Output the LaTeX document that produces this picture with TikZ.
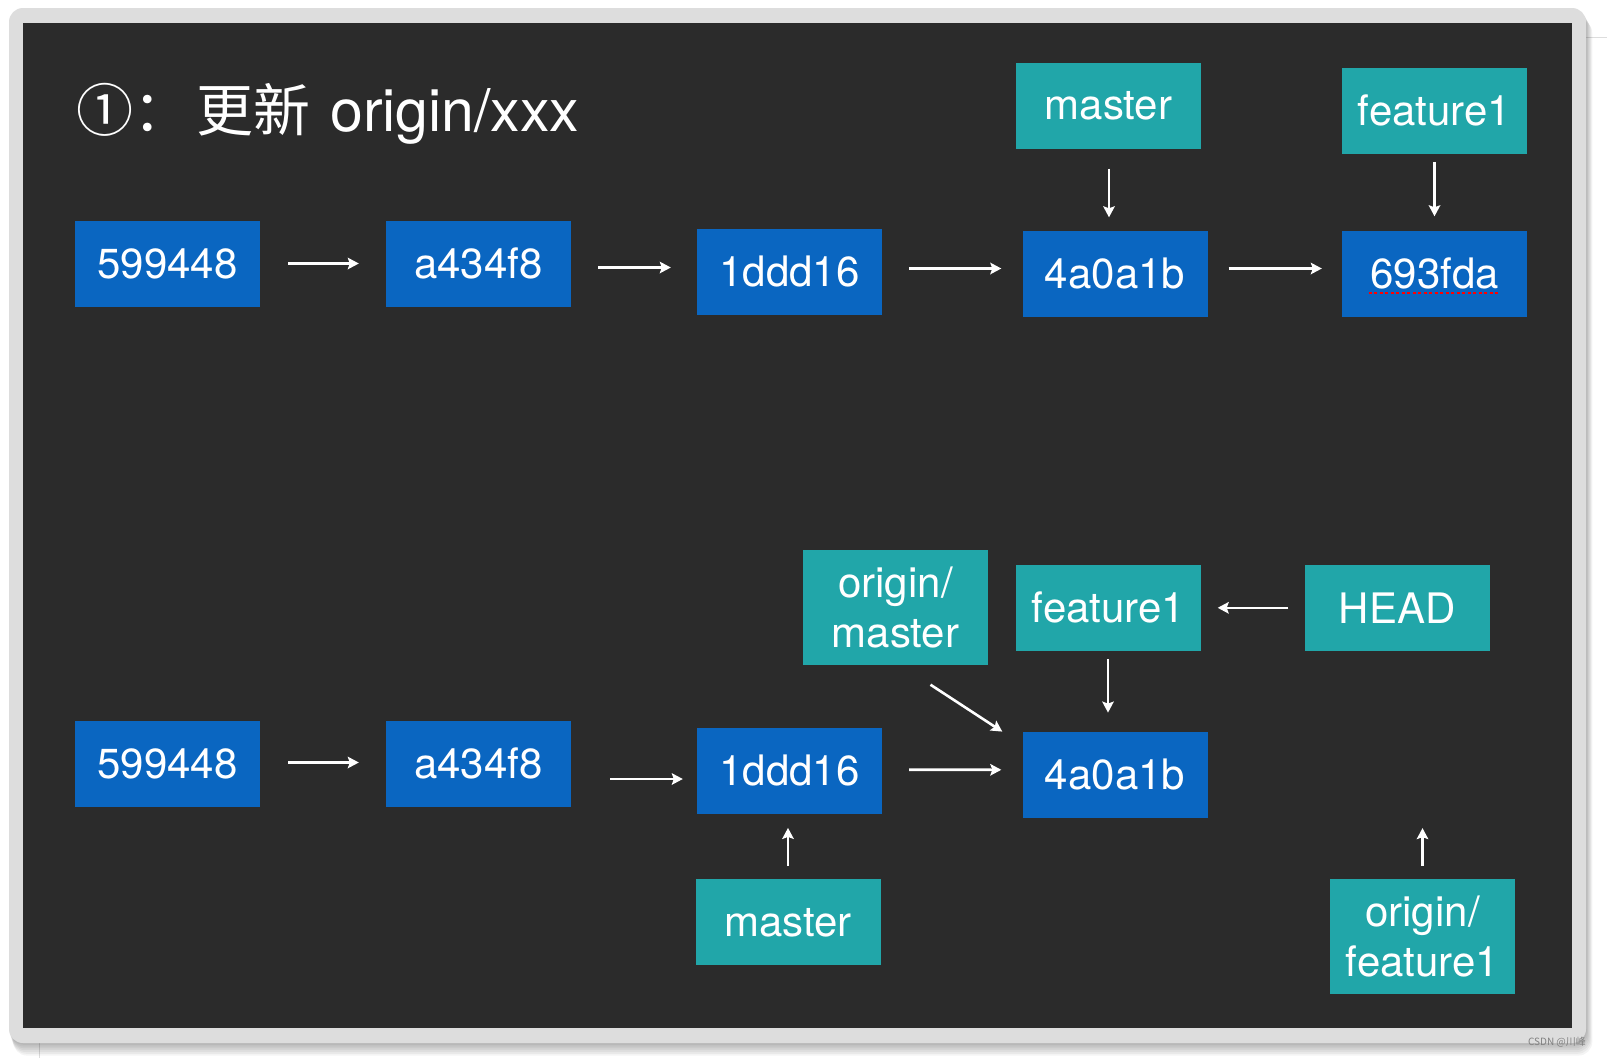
\documentclass[tikz,border=0pt]{standalone}
\usepackage{fontspec}
\setmainfont{TeX Gyre Heros}
\newfontfamily\cjk{Noto Sans CJK SC}
\usetikzlibrary{arrows.meta}
\definecolor{bgdark}{RGB}{43,43,43}
\definecolor{framegray}{RGB}{221,221,221}
\definecolor{cblue}{RGB}{10,102,193}
\definecolor{cteal}{RGB}{33,166,169}
\begin{document}
\begin{tikzpicture}[x=1pt,y=-1pt,
  box/.style={minimum width=185pt, minimum height=86pt, inner sep=0pt, text=white,
    font=\fontsize{42}{50}\selectfont, align=center},
  commit/.style={box, fill=cblue},
  refbox/.style={box, fill=cteal},
  tallref/.style={refbox, minimum height=115pt},
  arr/.style={white, line width=2.6pt, -{Stealth[length=11pt,width=11.5pt,inset=2pt]}}]
\useasboundingbox (0,0) rectangle (1607,1058);
\fill[white] (0,0) rectangle (1607,1058);
% faint screenshot lines
\draw[framegray, line width=0.8pt] (1586,37) -- (1607,37);
\draw[framegray, line width=0.8pt] (39,1043) -- (39,1058);
% shadow
\foreach \i in {1,...,7}
  \fill[black, opacity=0.045, rounded corners=14pt] (9+0.6*\i,8+1.6*\i) rectangle (1586+0.9*\i,1043+1.8*\i);
% frame
\fill[framegray, rounded corners=14pt] (9,8) rectangle (1586,1043);
\fill[bgdark] (23,23) rectangle (1572,1028);

% title
\node[anchor=base west, text=white, inner sep=0pt, font=\cjk\fontsize{57}{60}\selectfont] (t1) at (76,131) {①：};
\node[anchor=base west, text=white, inner sep=0pt, font=\cjk\fontsize{57}{60}\selectfont] (t2) at (196,131) {更新};
\node[anchor=base west, text=white, inner sep=0pt, font=\fontsize{59}{64}\selectfont] (t3) at (330,131) {origin/xxx};

% ---------- row 1 ----------
\node[commit] (c1a) at (167.5,263.5) {599448};
\node[commit] (c1b) at (478.5,263.5) {a434f8};
\node[commit] (c1c) at (789.5,271.5) {1ddd16};
\node[commit] (c1d) at (1115,273.5) {4a0a1b};
\node[commit] (c1e) at (1434.5,273.5) {693fda};
\node[refbox] (m1) at (1108.5,105.5) {master};
\node[refbox] (f1) at (1434.5,110.7) {feature1};

\draw[red, line width=2pt, dash pattern=on 3pt off 2.5pt] ([xshift=-66,yshift=-19.5]c1e.center) -- ([xshift=65,yshift=-19.5]c1e.center);

\draw[arr] ([xshift=28]c1a.east) -- ([xshift=-27]c1b.west);
\draw[arr] ([xshift=27,yshift=-4]c1b.east) -- ([xshift=-26,yshift=4]c1c.west);
\draw[arr] ([xshift=27,yshift=3]c1c.east) -- ([xshift=-21,yshift=5]c1d.west);
\draw[arr] ([xshift=21,yshift=5]c1d.east) -- ([xshift=-20,yshift=5]c1e.west);
\draw[arr] ([xshift=0.5,yshift=-20]m1.south) -- ([xshift=-6,yshift=13]c1d.north);
\draw[arr] ([yshift=-8]f1.south) -- ([yshift=14]c1e.north);

% ---------- row 2 ----------
\node[commit] (d1) at (167.5,763.5) {599448};
\node[commit] (d2) at (478.5,763.5) {a434f8};
\node[commit] (d3) at (789.5,770.7) {1ddd16};
\node[commit] (d4) at (1115,774.8) {4a0a1b};
\node[tallref] (om) at (895.5,607) {origin/\\master};
\node[refbox] (f2) at (1108.5,607.8) {feature1};
\node[refbox] (hd) at (1397,607.8) {HEAD};
\node[refbox] (m2) at (788,922.4) {master};
\node[tallref] (of) at (1422.5,936.8) {origin/\\feature1};

\draw[arr] ([xshift=28,yshift=1]d1.east) -- ([xshift=-27,yshift=1]d2.west);
\draw[arr] ([xshift=39,yshift=-15.5]d2.east) -- ([xshift=-14,yshift=-8.3]d3.west);
\draw[arr] ([xshift=27,yshift=1]d3.east) -- ([xshift=-21,yshift=5]d4.west);
\draw[arr] ([xshift=35,yshift=-20]om.south) -- ([xshift=-20,yshift=0]d4.north west);
\draw[arr] ([xshift=-0.5,yshift=-8]f2.south) -- ([xshift=-7,yshift=19]d4.north);
\draw[arr] ([xshift=-16]hd.west) -- ([xshift=16.5]f2.east);
\draw[arr] ([yshift=13]m2.north) -- ([xshift=-1.5,yshift=-14]d3.south);
\draw[arr] ([yshift=13]of.north) -- ([yshift=51]of.north);

% watermark
\node[text=gray, font=\cjk\fontsize{10}{12}\selectfont, inner sep=0pt] (wm) at (1557,1042) {CSDN @川峰};
\end{tikzpicture}
\end{document}
